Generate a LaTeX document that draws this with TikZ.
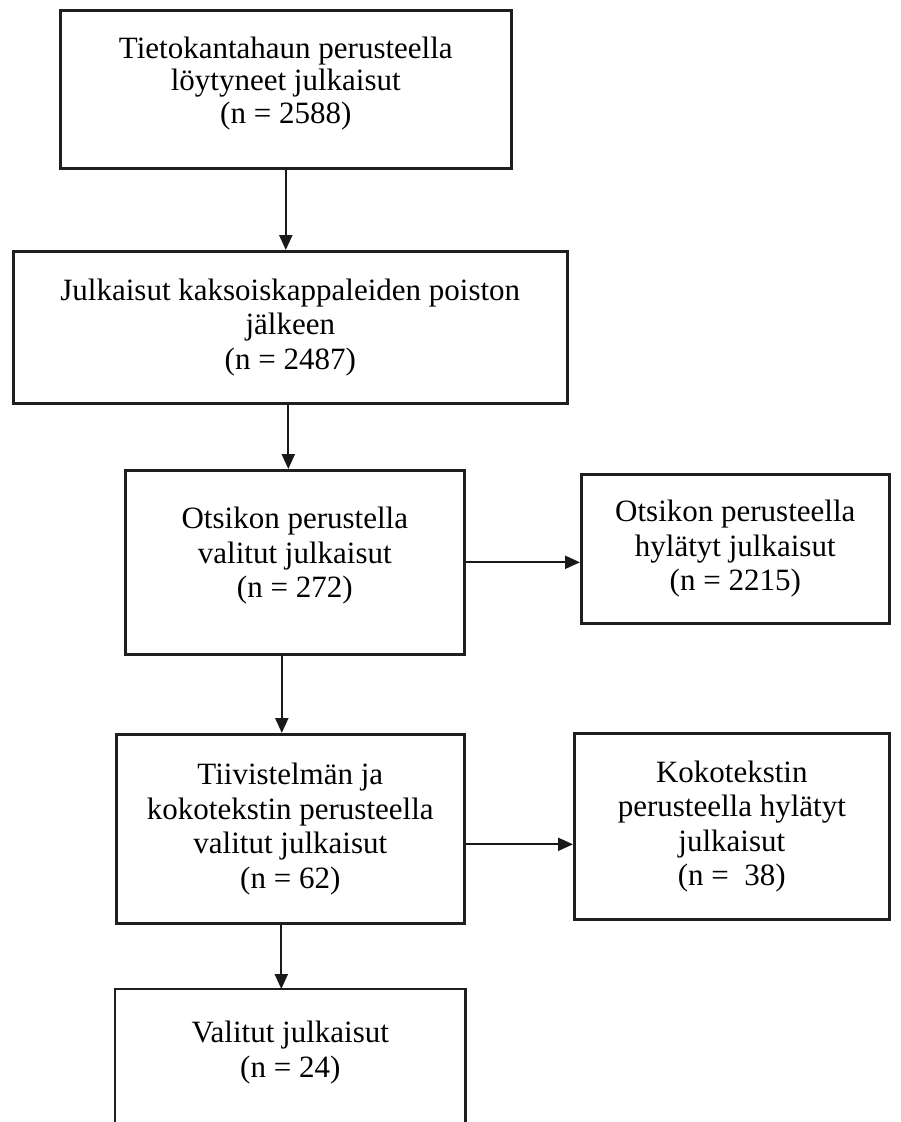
\documentclass[tikz,border=0pt]{standalone}
\usepackage{fontspec}
\setmainfont{Liberation Serif}
\usetikzlibrary{arrows.meta}
\tikzset{
  box/.style={draw=black!88, line width=2.6pt, anchor=north west, inner sep=0pt,
    align=center, font=\fontsize{31}{34.5}\selectfont},
  arr/.style={draw=black!90, line width=2.2pt, -{Triangle[width=13pt,length=15pt]}},
  edge/.style={draw=black!88, line width=2.6pt}
}
\newcommand{\liftup}[2]{\raisebox{#1}[\height][\depth]{\begin{tabular}{@{}c@{}}#2\end{tabular}}}
\begin{document}
\begin{tikzpicture}[x=1pt,y=-1pt]
\useasboundingbox (0,0) rectangle (901,1122);
\clip (0,0) rectangle (901,1122);
\node[box, minimum width=451pt, minimum height=158pt, font=\fontsize{31}{32.5}\selectfont] (b1) at (59,9)
  {\liftup{5pt}{Tietokantahaun perusteella\\löytyneet julkaisut\\(n = 2588)}};
\node[box, minimum width=554pt, minimum height=152pt] (b2) at (12,250)
  {Julkaisut kaksoiskappaleiden poiston\\jälkeen\\(n = 2487)};
\node[box, minimum width=339pt, minimum height=184pt] (b3) at (124,469)
  {\liftup{6pt}{Otsikon perustella\\valitut julkaisut\\(n = 272)}};
\node[box, minimum width=308pt, minimum height=149pt] (b4) at (580,473)
  {Otsikon perusteella\\hylätyt julkaisut\\(n = 2215)};
\node[box, minimum width=348pt, minimum height=189pt] (b5) at (115,733)
  {Tiivistelmän ja\\kokotekstin perusteella\\valitut julkaisut\\(n = 62)};
\node[box, minimum width=315pt, minimum height=186pt] (b6) at (573,732)
  {Kokotekstin\\perusteella hylätyt\\julkaisut\\(n =~ 38)};
\node[box, draw=none, minimum width=348pt, minimum height=124pt] (b7) at (115,989)
  {Valitut julkaisut\\(n = 24)};
\draw[edge] ([yshift=-30pt]b7.south west) -- (b7.north west) -- (b7.north east) -- ([yshift=-30pt]b7.south east);
\draw[arr] (b1.south) -- (b1.south |- b2.north);
\draw[arr] ([xshift=-2pt]b2.south) -- ([xshift=-2pt]b2.south |- b3.north);
\draw[arr] ([xshift=-13pt]b3.south) -- ([xshift=-13pt]b3.south |- b5.north);
\draw[arr] ([xshift=-9pt]b5.south) -- ([xshift=-9pt]b5.south |- b7.north);
\draw[arr] (b3.east) -- (b3.east -| b4.west);
\draw[arr] ([yshift=-15.5pt]b5.east) -- ([yshift=-15.5pt]b5.east -| b6.west);
\end{tikzpicture}
\end{document}
